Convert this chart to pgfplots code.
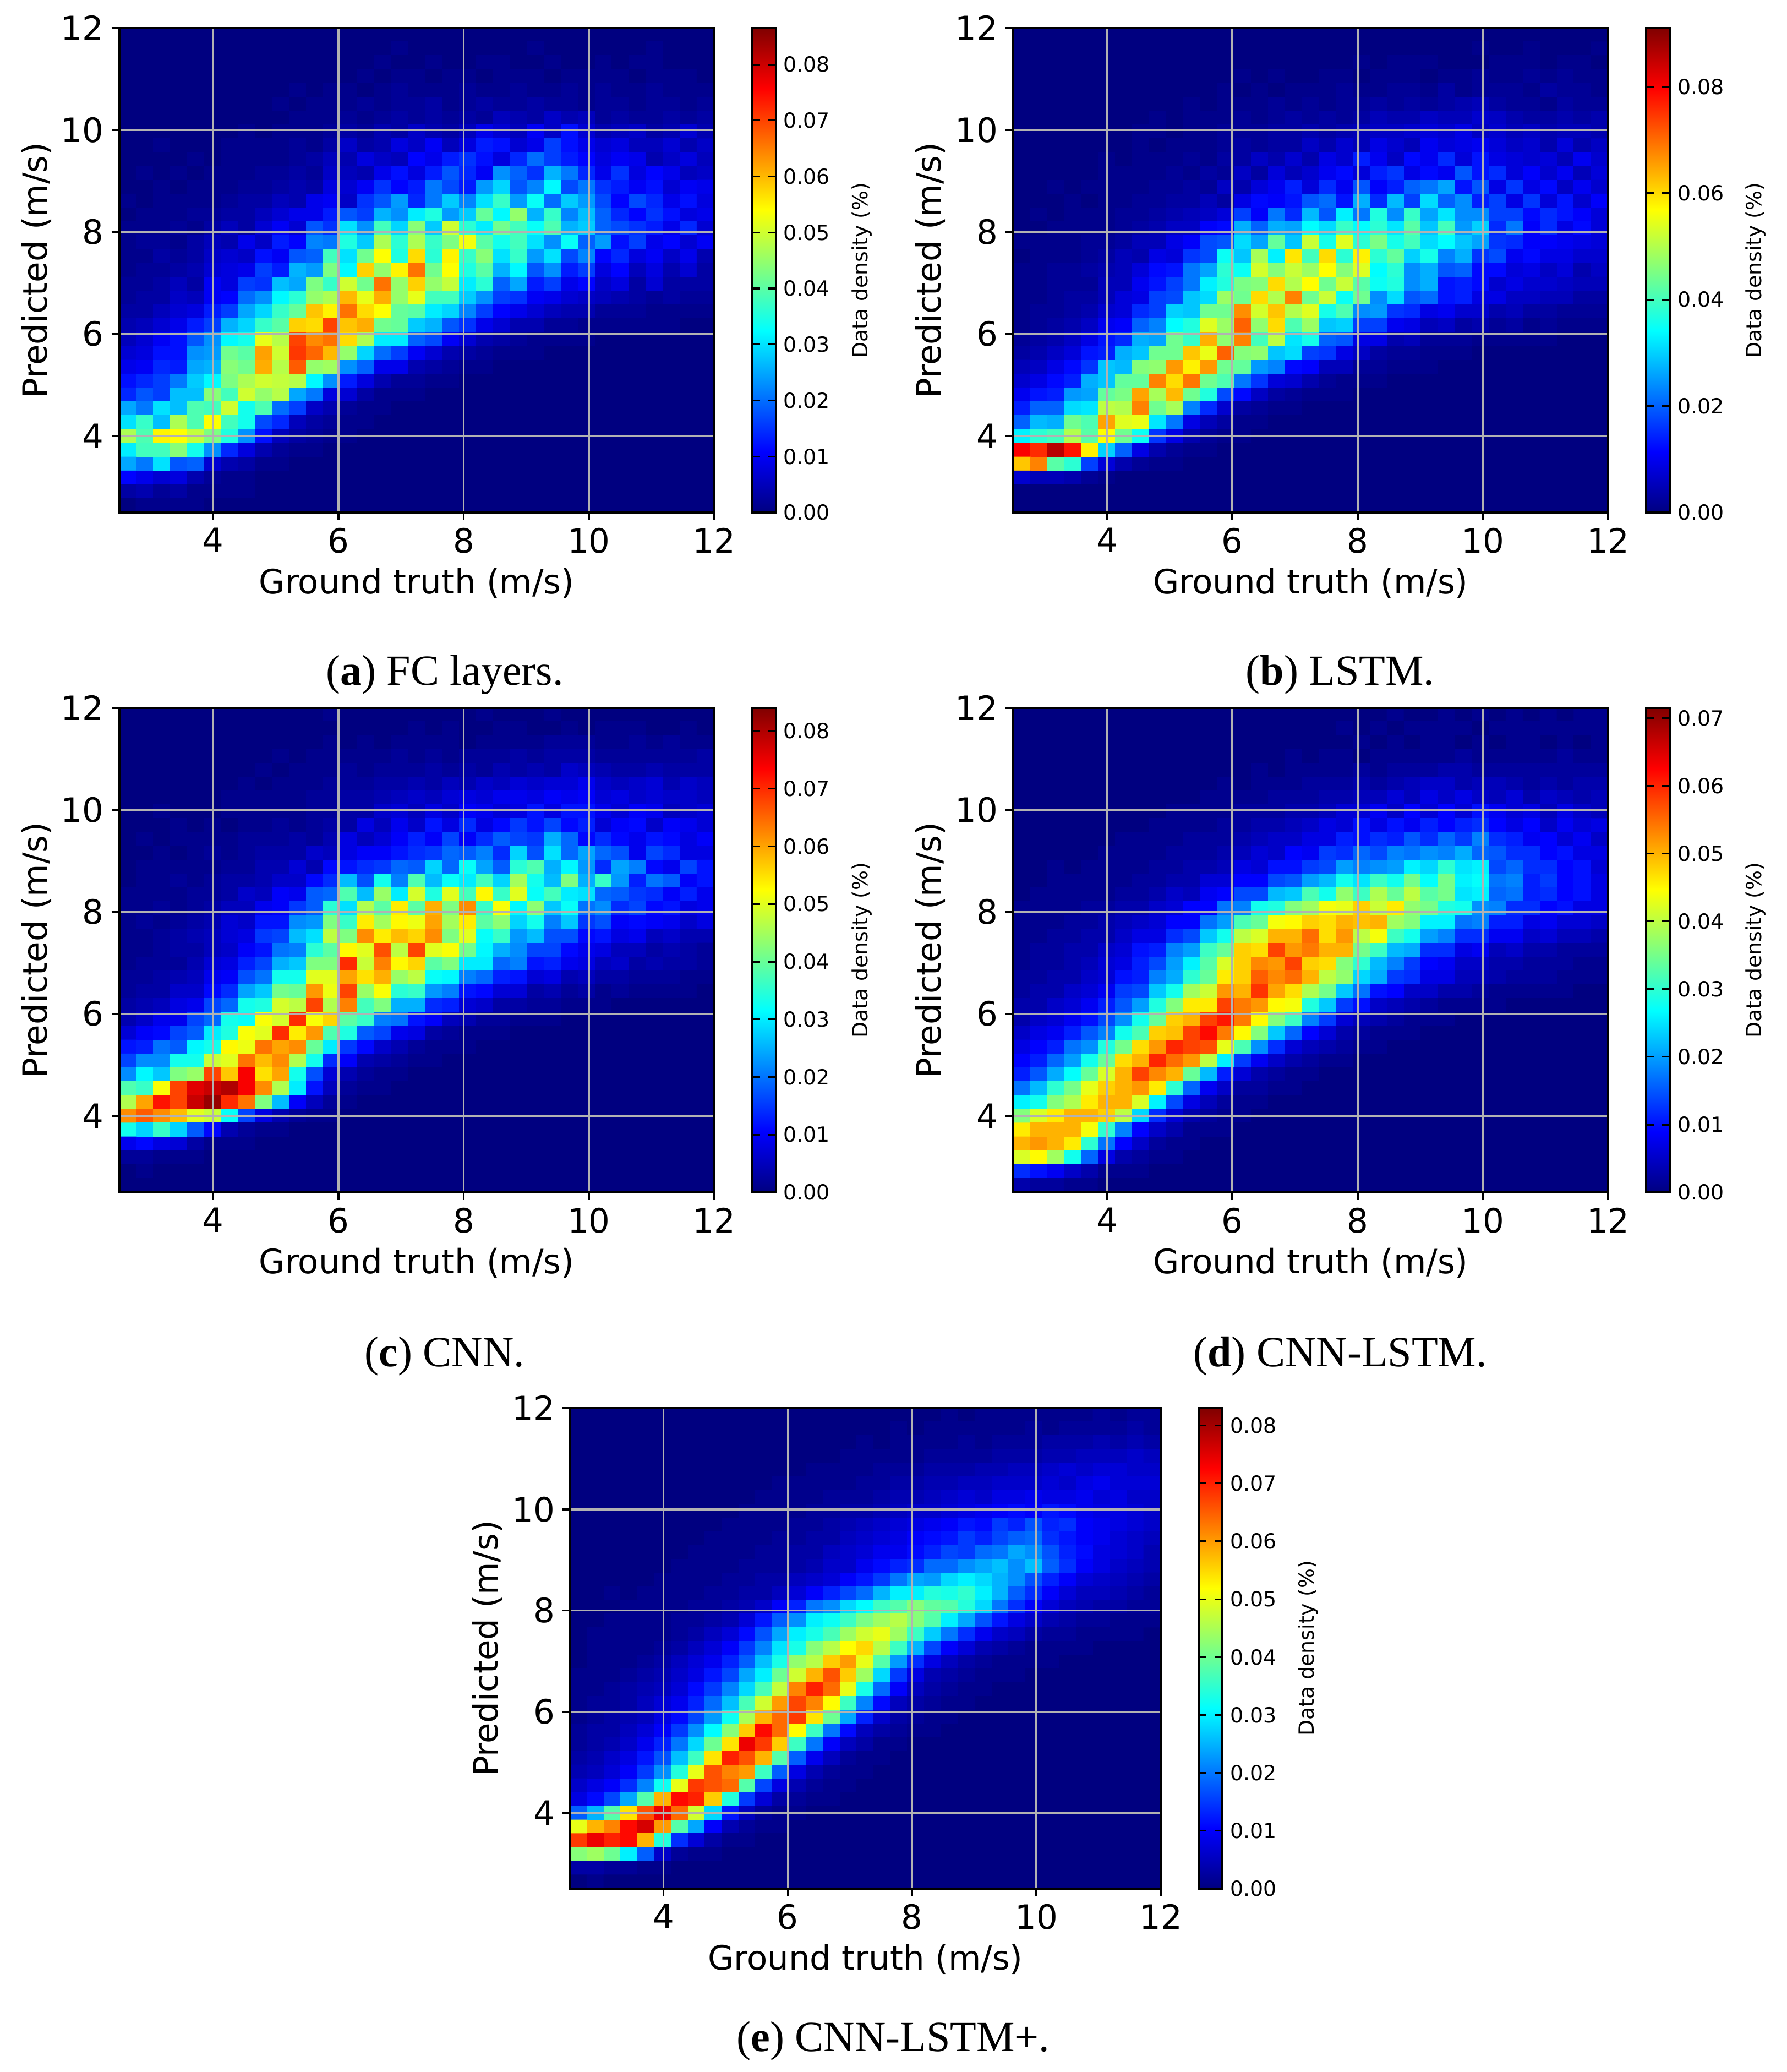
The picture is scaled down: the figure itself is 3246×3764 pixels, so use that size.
\documentclass[border=0pt]{standalone}
\usepackage{pgfplots}
\usepackage{pgfplotstable}
\usepackage{fontspec}
\setmainfont{DejaVu Sans}
\newfontfamily\capfont{Liberation Serif}
\pgfplotsset{compat=1.18}
\pgfplotstableread[row sep=\\]{z\\
0\\0\\0\\0\\0\\ 0\\0\\0\\0\\0\\ 0\\0\\0\\0\\0\\ 0\\0\\0\\0\\0\\ 0\\0\\0\\0\\0\\ 0\\0\\0\\0\\0\\ 0\\0\\0\\0\\0\\
0\\0\\0\\0\\0\\ 0\\0\\0\\0\\0\\ 0\\0\\0\\0\\0\\ 0\\1\\0\\0\\0\\ 0\\0\\0\\0\\1\\ 0\\0\\0\\0\\0\\ 0\\1\\0\\0\\0\\
0\\0\\0\\0\\0\\ 0\\0\\0\\0\\0\\ 0\\0\\0\\0\\0\\ 1\\0\\0\\1\\0\\ 0\\1\\1\\0\\0\\ 1\\0\\0\\1\\0\\ 1\\1\\0\\0\\0\\
0\\0\\0\\0\\0\\ 0\\0\\0\\0\\0\\ 0\\0\\0\\0\\1\\ 0\\1\\1\\0\\1\\ 1\\0\\1\\1\\1\\ 0\\1\\1\\1\\1\\ 0\\1\\1\\1\\0\\
0\\0\\0\\0\\0\\ 0\\0\\0\\0\\0\\ 1\\0\\1\\1\\0\\ 1\\2\\1\\1\\1\\ 2\\1\\1\\2\\1\\ 1\\2\\1\\2\\1\\ 1\\2\\1\\1\\1\\
0\\0\\0\\0\\0\\ 0\\0\\0\\0\\1\\ 0\\1\\1\\1\\2\\ 1\\2\\2\\3\\1\\ 2\\3\\2\\2\\3\\ 2\\2\\1\\2\\2\\ 1\\2\\2\\1\\2\\
0\\0\\0\\0\\0\\ 0\\0\\0\\0\\0\\ 1\\1\\1\\2\\1\\ 2\\3\\2\\3\\2\\ 3\\2\\5\\4\\3\\ 6\\4\\5\\2\\3\\ 2\\2\\3\\2\\3\\
0\\0\\0\\0\\0\\ 0\\0\\1\\0\\1\\ 1\\1\\2\\3\\2\\ 4\\3\\6\\4\\3\\ 5\\9\\7\\5\\10\\ 6\\12\\7\\4\\5\\ 6\\3\\4\\7\\4\\
0\\0\\1\\0\\0\\ 0\\1\\1\\1\\1\\ 2\\1\\3\\6\\3\\ 4\\8\\6\\10\\5\\ 8\\13\\12\\7\\9\\ 16\\12\\9\\7\\8\\ 5\\5\\7\\4\\6\\
0\\0\\0\\0\\1\\ 0\\1\\1\\1\\1\\ 2\\3\\5\\4\\8\\ 6\\5\\11\\9\\13\\ 15\\12\\8\\14\\20\\ 16\\13\\11\\8\\10\\ 9\\4\\6\\8\\5\\
0\\1\\0\\1\\0\\ 1\\1\\1\\2\\2\\ 3\\2\\6\\5\\4\\ 9\\12\\8\\13\\18\\ 14\\10\\23\\19\\15\\ 26\\21\\14\\9\\15\\ 8\\11\\9\\5\\6\\
0\\0\\1\\0\\1\\ 1\\1\\2\\2\\3\\ 4\\3\\8\\7\\10\\ 15\\11\\13\\21\\17\\ 13\\24\\29\\18\\22\\ 32\\17\\21\\15\\13\\ 10\\12\\7\\10\\9\\
1\\0\\1\\1\\1\\ 1\\2\\3\\3\\5\\ 4\\9\\10\\6\\15\\ 18\\24\\14\\21\\28\\ 22\\30\\37\\24\\33\\ 20\\28\\24\\17\\11\\ 17\\14\\9\\12\\8\\
0\\1\\1\\1\\2\\ 2\\3\\3\\5\\7\\ 9\\9\\13\\18\\16\\ 26\\23\\31\\35\\24\\ 28\\41\\32\\45\\26\\ 37\\22\\27\\19\\14\\ 11\\15\\12\\8\\9\\
1\\1\\1\\2\\1\\ 3\\5\\3\\7\\10\\ 7\\18\\15\\30\\23\\ 38\\29\\44\\28\\50\\ 36\\31\\42\\38\\33\\ 39\\26\\28\\19\\17\\ 15\\13\\9\\14\\7\\
1\\2\\2\\1\\3\\ 5\\4\\9\\6\\13\\ 11\\22\\21\\35\\28\\ 47\\36\\47\\37\\43\\ 53\\40\\34\\38\\30\\ 23\\33\\19\\24\\12\\ 16\\9\\11\\7\\10\\
1\\1\\3\\2\\3\\ 6\\7\\6\\12\\10\\ 18\\19\\38\\30\\42\\ 54\\35\\57\\36\\55\\ 37\\44\\30\\37\\24\\ 30\\17\\22\\11\\14\\ 8\\10\\6\\9\\4\\
1\\2\\2\\3\\4\\ 7\\8\\9\\16\\13\\ 26\\24\\43\\32\\58\\ 45\\55\\66\\42\\54\\ 35\\40\\26\\32\\18\\ 23\\13\\16\\8\\11\\ 5\\8\\4\\7\\3\\
2\\2\\3\\5\\3\\ 10\\8\\16\\15\\27\\ 25\\43\\37\\50\\42\\ 66\\45\\58\\45\\49\\ 31\\36\\19\\25\\13\\ 16\\9\\11\\6\\8\\ 3\\7\\3\\3\\3\\
2\\3\\3\\6\\5\\ 10\\11\\20\\23\\32\\ 36\\45\\47\\60\\52\\ 61\\45\\52\\38\\38\\ 28\\23\\16\\15\\10\\ 9\\7\\6\\5\\4\\ 3\\2\\3\\2\\2\\
3\\3\\5\\7\\8\\ 13\\16\\25\\29\\37\\ 41\\59\\55\\66\\57\\ 54\\41\\40\\31\\29\\ 22\\16\\11\\9\\7\\ 5\\4\\4\\2\\2\\ 2\\1\\1\\1\\1\\
4\\5\\7\\9\\13\\ 16\\26\\29\\37\\40\\ 58\\57\\70\\59\\61\\ 42\\41\\28\\26\\18\\ 15\\9\\7\\4\\4\\ 2\\2\\1\\1\\1\\ 1\\1\\1\\0\\0\\
5\\7\\10\\12\\18\\ 23\\32\\34\\52\\48\\ 70\\64\\66\\57\\47\\ 31\\31\\19\\17\\10\\ 7\\4\\3\\2\\1\\ 1\\1\\1\\0\\0\\ 0\\0\\0\\0\\0\\
7\\8\\12\\12\\23\\ 24\\42\\40\\62\\50\\ 71\\67\\60\\45\\29\\ 20\\16\\10\\7\\4\\ 3\\2\\1\\1\\1\\ 0\\0\\0\\0\\0\\ 0\\0\\0\\0\\0\\
9\\10\\14\\13\\25\\ 26\\44\\42\\61\\48\\ 68\\45\\46\\23\\19\\ 9\\9\\4\\3\\2\\ 1\\1\\0\\0\\0\\ 0\\0\\0\\0\\0\\ 0\\0\\0\\0\\0\\
12\\14\\16\\21\\28\\ 32\\43\\47\\50\\49\\ 48\\32\\23\\13\\8\\ 4\\2\\2\\1\\1\\ 0\\0\\0\\0\\0\\ 0\\0\\0\\0\\0\\ 0\\0\\0\\0\\0\\
14\\18\\16\\27\\27\\ 44\\38\\50\\45\\48\\ 25\\21\\8\\7\\3\\ 1\\1\\1\\0\\0\\ 0\\0\\0\\0\\0\\ 0\\0\\0\\0\\0\\ 0\\0\\0\\0\\0\\
25\\21\\30\\27\\39\\ 38\\50\\34\\39\\20\\ 16\\6\\4\\2\\1\\ 1\\0\\0\\0\\0\\ 0\\0\\0\\0\\0\\ 0\\0\\0\\0\\0\\ 0\\0\\0\\0\\0\\
30\\37\\27\\47\\39\\ 54\\38\\34\\17\\14\\ 5\\3\\2\\1\\1\\ 0\\0\\0\\0\\0\\ 0\\0\\0\\0\\0\\ 0\\0\\0\\0\\0\\ 0\\0\\0\\0\\0\\
47\\39\\55\\54\\49\\ 43\\35\\23\\12\\5\\ 3\\2\\1\\1\\0\\ 0\\0\\0\\0\\0\\ 0\\0\\0\\0\\0\\ 0\\0\\0\\0\\0\\ 0\\0\\0\\0\\0\\
31\\38\\38\\44\\34\\ 23\\14\\8\\4\\2\\ 1\\1\\0\\0\\0\\ 0\\0\\0\\0\\0\\ 0\\0\\0\\0\\0\\ 0\\0\\0\\0\\0\\ 0\\0\\0\\0\\0\\
25\\21\\30\\18\\19\\ 7\\4\\3\\1\\1\\ 0\\0\\0\\0\\0\\ 0\\0\\0\\0\\0\\ 0\\0\\0\\0\\0\\ 0\\0\\0\\0\\0\\ 0\\0\\0\\0\\0\\
11\\9\\7\\8\\4\\ 2\\1\\1\\0\\0\\ 0\\0\\0\\0\\0\\ 0\\0\\0\\0\\0\\ 0\\0\\0\\0\\0\\ 0\\0\\0\\0\\0\\ 0\\0\\0\\0\\0\\
3\\4\\2\\3\\1\\ 1\\1\\1\\0\\0\\ 0\\0\\0\\0\\0\\ 0\\0\\0\\0\\0\\ 0\\0\\0\\0\\0\\ 0\\0\\0\\0\\0\\ 0\\0\\0\\0\\0\\
0\\1\\1\\1\\1\\ 0\\0\\0\\0\\0\\ 0\\0\\0\\0\\0\\ 0\\0\\0\\0\\0\\ 0\\0\\0\\0\\0\\ 0\\0\\0\\0\\0\\ 0\\0\\0\\0\\0\\
}\tA
\pgfplotstableread[row sep=\\]{z\\
0\\0\\0\\0\\0\\ 0\\0\\0\\0\\0\\ 0\\0\\0\\0\\0\\ 0\\0\\0\\0\\0\\ 0\\0\\0\\0\\0\\ 0\\0\\0\\0\\0\\ 0\\0\\0\\0\\0\\
0\\0\\0\\0\\0\\ 0\\0\\0\\0\\0\\ 0\\0\\0\\0\\0\\ 0\\0\\0\\0\\0\\ 0\\0\\0\\0\\0\\ 0\\0\\1\\0\\0\\ 1\\0\\0\\0\\1\\
0\\0\\0\\0\\0\\ 0\\0\\0\\0\\0\\ 0\\0\\0\\0\\0\\ 0\\0\\0\\0\\0\\ 1\\0\\1\\1\\1\\ 0\\0\\0\\1\\1\\ 1\\0\\1\\1\\0\\
0\\0\\0\\0\\0\\ 0\\0\\0\\0\\0\\ 0\\0\\0\\1\\0\\ 1\\0\\0\\1\\1\\ 0\\1\\1\\1\\0\\ 1\\1\\2\\1\\1\\ 2\\1\\2\\1\\1\\
0\\0\\0\\0\\0\\ 0\\0\\0\\0\\0\\ 0\\0\\1\\0\\1\\ 0\\1\\1\\1\\2\\ 1\\1\\2\\2\\1\\ 3\\1\\2\\2\\2\\ 1\\3\\2\\2\\1\\
0\\0\\0\\0\\0\\ 0\\0\\0\\0\\0\\ 1\\0\\1\\1\\1\\ 2\\1\\2\\1\\2\\ 2\\3\\2\\3\\2\\ 3\\4\\5\\3\\2\\ 2\\1\\3\\2\\2\\
0\\0\\0\\0\\0\\ 0\\0\\0\\1\\0\\ 1\\1\\1\\2\\1\\ 2\\3\\2\\3\\2\\ 3\\5\\4\\4\\6\\ 5\\5\\7\\6\\4\\ 3\\3\\4\\3\\4\\
0\\0\\0\\0\\0\\ 0\\0\\1\\1\\0\\ 1\\1\\2\\2\\2\\ 3\\3\\4\\3\\4\\ 5\\6\\6\\7\\8\\ 7\\9\\6\\7\\5\\ 6\\4\\5\\5\\4\\
0\\0\\0\\0\\0\\ 0\\0\\1\\0\\1\\ 1\\1\\2\\3\\2\\ 3\\3\\6\\4\\7\\ 5\\9\\7\\5\\10\\ 8\\9\\10\\8\\6\\ 7\\4\\8\\4\\6\\
0\\0\\0\\0\\0\\ 1\\0\\1\\1\\1\\ 2\\1\\3\\3\\6\\ 4\\7\\4\\9\\7\\ 14\\10\\6\\12\\10\\ 15\\8\\13\\9\\8\\ 7\\8\\5\\10\\7\\
0\\0\\0\\0\\0\\ 1\\1\\1\\1\\2\\ 1\\3\\2\\6\\3\\ 8\\5\\7\\10\\12\\ 8\\14\\16\\9\\12\\ 10\\19\\13\\15\\8\\ 11\\7\\10\\5\\8\\
0\\0\\1\\0\\1\\ 1\\1\\1\\2\\2\\ 3\\2\\6\\4\\8\\ 10\\14\\8\\15\\10\\ 19\\11\\14\\20\\22\\ 26\\13\\19\\9\\16\\ 9\\12\\6\\10\\7\\
0\\0\\0\\1\\0\\ 1\\1\\2\\2\\3\\ 3\\5\\3\\9\\12\\ 11\\13\\19\\21\\13\\ 27\\15\\28\\17\\31\\ 20\\24\\14\\17\\9\\ 16\\8\\13\\7\\11\\
0\\1\\0\\1\\1\\ 1\\2\\2\\3\\4\\ 5\\6\\8\\17\\11\\ 22\\15\\28\\19\\33\\ 22\\37\\24\\39\\26\\ 32\\24\\24\\17\\17\\ 12\\15\\13\\11\\8\\
0\\0\\1\\1\\1\\ 1\\2\\3\\4\\6\\ 6\\11\\12\\27\\20\\ 27\\26\\34\\31\\39\\ 34\\38\\32\\42\\29\\ 40\\25\\30\\15\\22\\ 11\\15\\9\\12\\8\\
1\\1\\1\\1\\2\\ 2\\3\\5\\5\\9\\ 11\\18\\19\\31\\26\\ 43\\29\\52\\36\\54\\ 38\\45\\36\\40\\31\\ 34\\29\\26\\16\\15\\ 11\\11\\10\\9\\8\\
0\\1\\1\\1\\2\\ 3\\5\\4\\9\\8\\ 16\\18\\35\\29\\49\\ 33\\59\\40\\60\\38\\ 58\\38\\43\\30\\36\\ 23\\27\\16\\18\\10\\ 12\\9\\9\\7\\7\\
1\\1\\2\\2\\3\\ 4\\5\\8\\12\\13\\ 22\\26\\38\\35\\53\\ 46\\52\\48\\57\\46\\ 54\\34\\38\\24\\27\\ 19\\20\\12\\12\\8\\ 9\\6\\8\\4\\6\\
1\\1\\2\\2\\2\\ 5\\5\\10\\13\\17\\ 22\\33\\37\\45\\46\\ 60\\50\\57\\44\\52\\ 42\\35\\37\\24\\27\\ 13\\14\\12\\7\\9\\ 7\\7\\6\\5\\5\\
1\\1\\2\\3\\3\\ 5\\8\\9\\17\\18\\ 29\\31\\48\\44\\60\\ 50\\68\\44\\52\\35\\ 44\\24\\31\\19\\21\\ 13\\14\\9\\9\\6\\ 6\\5\\5\\3\\3\\
1\\2\\2\\3\\4\\ 7\\8\\15\\17\\30\\ 29\\44\\44\\67\\53\\ 62\\50\\54\\36\\41\\ 24\\25\\16\\15\\9\\ 10\\7\\7\\4\\5\\ 3\\3\\2\\2\\2\\
1\\2\\3\\4\\6\\ 10\\11\\20\\23\\34\\ 37\\54\\48\\71\\47\\ 60\\41\\48\\29\\30\\ 17\\17\\10\\9\\5\\ 6\\3\\4\\2\\3\\ 1\\2\\1\\1\\1\\
2\\3\\4\\6\\9\\ 13\\15\\27\\26\\44\\ 39\\64\\47\\68\\40\\ 51\\32\\36\\20\\19\\ 9\\9\\4\\5\\2\\ 2\\2\\1\\1\\1\\ 1\\1\\0\\0\\0\\
3\\4\\6\\8\\13\\ 14\\27\\29\\44\\44\\ 62\\55\\71\\46\\47\\ 29\\31\\17\\16\\9\\ 6\\3\\2\\2\\1\\ 1\\1\\0\\0\\0\\ 0\\0\\0\\0\\0\\
5\\6\\9\\12\\16\\ 29\\28\\46\\47\\66\\ 58\\66\\44\\43\\25\\ 23\\12\\11\\5\\5\\ 2\\2\\1\\1\\1\\ 0\\0\\0\\0\\0\\ 0\\0\\0\\0\\0\\
7\\9\\12\\14\\27\\ 29\\43\\43\\68\\60\\ 69\\44\\41\\22\\16\\ 8\\7\\4\\2\\1\\ 1\\1\\0\\0\\0\\ 0\\0\\0\\0\\0\\ 0\\0\\0\\0\\0\\
10\\13\\14\\25\\26\\ 43\\45\\65\\49\\63\\ 44\\37\\18\\12\\6\\ 3\\2\\1\\1\\1\\ 0\\0\\0\\0\\0\\ 0\\0\\0\\0\\0\\ 0\\0\\0\\0\\0\\
14\\20\\20\\31\\32\\ 51\\50\\68\\44\\49\\ 23\\15\\7\\3\\2\\ 1\\1\\0\\0\\0\\ 0\\0\\0\\0\\0\\ 0\\0\\0\\0\\0\\ 0\\0\\0\\0\\0\\
20\\28\\27\\44\\41\\ 65\\54\\55\\32\\22\\ 9\\5\\3\\1\\1\\ 0\\0\\0\\0\\0\\ 0\\0\\0\\0\\0\\ 0\\0\\0\\0\\0\\ 0\\0\\0\\0\\0\\
33\\38\\40\\50\\42\\ 57\\44\\35\\16\\9\\ 4\\2\\1\\1\\0\\ 0\\0\\0\\0\\0\\ 0\\0\\0\\0\\0\\ 0\\0\\0\\0\\0\\ 0\\0\\0\\0\\0\\
80\\76\\86\\78\\58\\ 30\\20\\9\\4\\2\\ 1\\1\\0\\0\\0\\ 0\\0\\0\\0\\0\\ 0\\0\\0\\0\\0\\ 0\\0\\0\\0\\0\\ 0\\0\\0\\0\\0\\
62\\68\\42\\38\\17\\ 8\\4\\2\\1\\1\\ 0\\0\\0\\0\\0\\ 0\\0\\0\\0\\0\\ 0\\0\\0\\0\\0\\ 0\\0\\0\\0\\0\\ 0\\0\\0\\0\\0\\
7\\5\\5\\4\\2\\ 1\\0\\0\\0\\0\\ 0\\0\\0\\0\\0\\ 0\\0\\0\\0\\0\\ 0\\0\\0\\0\\0\\ 0\\0\\0\\0\\0\\ 0\\0\\0\\0\\0\\
0\\0\\0\\0\\0\\ 0\\0\\0\\0\\0\\ 0\\0\\0\\0\\0\\ 0\\0\\0\\0\\0\\ 0\\0\\0\\0\\0\\ 0\\0\\0\\0\\0\\ 0\\0\\0\\0\\0\\
0\\0\\0\\0\\0\\ 0\\0\\0\\0\\0\\ 0\\0\\0\\0\\0\\ 0\\0\\0\\0\\0\\ 0\\0\\0\\0\\0\\ 0\\0\\0\\0\\0\\ 0\\0\\0\\0\\0\\
}\tB
\pgfplotstableread[row sep=\\]{z\\
0\\0\\0\\0\\0\\ 0\\0\\0\\0\\0\\ 0\\0\\1\\0\\0\\ 0\\0\\0\\0\\0\\ 0\\1\\0\\0\\0\\ 1\\0\\0\\0\\0\\ 0\\0\\0\\0\\0\\
0\\0\\0\\0\\0\\ 0\\0\\0\\0\\0\\ 0\\0\\0\\0\\0\\ 0\\0\\1\\0\\1\\ 0\\0\\1\\1\\0\\ 0\\1\\0\\1\\1\\ 1\\0\\0\\1\\0\\
0\\0\\0\\0\\0\\ 0\\0\\0\\0\\0\\ 0\\0\\1\\0\\1\\ 0\\1\\1\\1\\1\\ 0\\1\\1\\1\\1\\ 2\\2\\2\\1\\1\\ 2\\1\\2\\1\\1\\
0\\0\\0\\0\\0\\ 0\\0\\0\\0\\1\\ 0\\1\\1\\1\\1\\ 1\\2\\1\\2\\1\\ 2\\2\\2\\3\\2\\ 3\\3\\3\\2\\2\\ 2\\2\\2\\2\\3\\
0\\0\\0\\0\\0\\ 0\\0\\0\\1\\0\\ 1\\1\\1\\2\\1\\ 2\\2\\2\\3\\2\\ 3\\2\\4\\3\\4\\ 3\\6\\5\\4\\3\\ 3\\4\\3\\3\\3\\
0\\0\\0\\0\\0\\ 0\\0\\1\\0\\1\\ 1\\1\\2\\2\\2\\ 3\\3\\4\\3\\5\\ 4\\6\\5\\7\\6\\ 7\\7\\9\\6\\5\\ 6\\7\\4\\6\\5\\
0\\0\\0\\0\\0\\ 0\\1\\1\\1\\1\\ 1\\2\\2\\3\\3\\ 4\\5\\6\\5\\7\\ 8\\7\\9\\9\\8\\ 10\\9\\10\\7\\8\\ 6\\7\\6\\6\\5\\
0\\0\\1\\0\\0\\ 0\\1\\1\\1\\1\\ 1\\2\\2\\3\\3\\ 6\\7\\5\\8\\6\\ 10\\9\\7\\8\\12\\ 8\\12\\12\\9\\7\\ 10\\9\\5\\6\\7\\
0\\0\\0\\1\\0\\ 1\\0\\1\\1\\2\\ 1\\2\\3\\3\\8\\ 5\\9\\6\\12\\8\\ 14\\8\\11\\15\\12\\ 16\\11\\13\\7\\10\\ 11\\6\\10\\9\\7\\
0\\1\\0\\1\\1\\ 1\\1\\2\\2\\2\\ 3\\2\\4\\8\\5\\ 7\\10\\13\\10\\16\\ 10\\14\\18\\16\\15\\ 25\\19\\11\\14\\11\\ 9\\12\\11\\8\\10\\
0\\0\\1\\0\\1\\ 2\\1\\2\\3\\3\\ 3\\6\\5\\8\\10\\ 10\\12\\14\\15\\19\\ 18\\21\\14\\28\\17\\ 29\\19\\24\\19\\17\\ 9\\16\\14\\8\\8\\
0\\1\\1\\1\\1\\ 1\\2\\2\\4\\4\\ 7\\4\\11\\12\\14\\ 15\\19\\18\\28\\19\\ 32\\24\\18\\35\\38\\ 25\\31\\23\\14\\24\\ 21\\11\\9\\16\\12\\
0\\1\\1\\2\\1\\ 2\\3\\3\\4\\6\\ 6\\11\\14\\26\\17\\ 33\\21\\38\\26\\32\\ 30\\37\\28\\45\\33\\ 26\\42\\25\\36\\23\\ 13\\20\\18\\10\\12\\
1\\1\\1\\1\\2\\ 2\\3\\6\\5\\10\\ 9\\18\\19\\38\\26\\ 44\\30\\49\\34\\50\\ 37\\53\\36\\50\\32\\ 37\\30\\29\\19\\18\\ 15\\14\\10\\13\\9\\
1\\1\\2\\1\\2\\ 3\\5\\5\\9\\10\\ 15\\18\\35\\29\\46\\ 39\\54\\39\\59\\42\\ 62\\36\\52\\31\\43\\ 27\\32\\20\\22\\14\\ 16\\11\\12\\8\\9\\
1\\2\\1\\2\\3\\ 4\\7\\6\\12\\12\\ 22\\23\\42\\36\\54\\ 45\\53\\51\\60\\45\\ 54\\39\\43\\28\\33\\ 21\\27\\15\\17\\10\\ 11\\10\\9\\6\\8\\
1\\1\\2\\3\\4\\ 5\\7\\8\\15\\16\\ 26\\29\\47\\42\\62\\ 54\\58\\56\\62\\42\\ 50\\32\\36\\23\\26\\ 17\\17\\11\\12\\8\\ 9\\5\\6\\4\\4\\
1\\1\\2\\3\\3\\ 5\\6\\10\\12\\20\\ 21\\35\\39\\53\\50\\ 67\\47\\68\\50\\52\\ 41\\31\\25\\22\\16\\ 16\\11\\9\\8\\5\\ 5\\3\\4\\3\\2\\
1\\2\\2\\2\\4\\ 7\\8\\13\\16\\25\\ 27\\42\\42\\70\\48\\ 63\\53\\56\\39\\42\\ 30\\30\\19\\21\\12\\ 13\\9\\8\\5\\6\\ 3\\4\\3\\3\\2\\
2\\2\\3\\4\\5\\ 9\\10\\17\\20\\33\\ 33\\50\\50\\60\\55\\ 59\\44\\47\\32\\31\\ 21\\19\\13\\12\\7\\ 8\\4\\5\\3\\3\\ 2\\2\\2\\1\\1\\
2\\3\\3\\6\\6\\ 11\\14\\24\\27\\41\\ 40\\61\\51\\68\\44\\ 52\\35\\36\\23\\21\\ 12\\11\\7\\7\\3\\ 4\\2\\3\\1\\2\\ 1\\1\\1\\1\\0\\
3\\4\\5\\8\\9\\ 16\\19\\33\\34\\49\\ 47\\68\\46\\63\\37\\ 42\\25\\25\\14\\13\\ 7\\6\\3\\3\\2\\ 2\\1\\1\\1\\0\\ 0\\0\\0\\0\\0\\
4\\6\\9\\9\\16\\ 19\\33\\32\\52\\49\\ 70\\52\\56\\39\\36\\ 21\\20\\12\\10\\5\\ 4\\2\\2\\1\\1\\ 1\\0\\0\\0\\0\\ 0\\0\\0\\0\\0\\
7\\10\\11\\16\\18\\ 30\\34\\52\\50\\70\\ 54\\61\\38\\34\\18\\ 16\\9\\8\\3\\2\\ 1\\1\\1\\0\\0\\ 0\\0\\0\\0\\0\\ 0\\0\\0\\0\\0\\
12\\13\\20\\18\\31\\ 33\\53\\51\\64\\60\\ 62\\40\\30\\15\\11\\ 6\\4\\2\\1\\1\\ 1\\0\\0\\0\\0\\ 0\\0\\0\\0\\0\\ 0\\0\\0\\0\\0\\
16\\22\\22\\33\\33\\ 48\\50\\64\\58\\62\\ 46\\33\\14\\10\\4\\ 3\\2\\1\\1\\0\\ 0\\0\\0\\0\\0\\ 0\\0\\0\\0\\0\\ 0\\0\\0\\0\\0\\
22\\31\\27\\42\\44\\ 68\\57\\74\\55\\60\\ 33\\17\\7\\4\\2\\ 1\\1\\0\\0\\0\\ 0\\0\\0\\0\\0\\ 0\\0\\0\\0\\0\\ 0\\0\\0\\0\\0\\
38\\36\\52\\68\\76\\ 78\\80\\74\\62\\46\\ 30\\12\\5\\2\\1\\ 1\\0\\0\\0\\0\\ 0\\0\\0\\0\\0\\ 0\\0\\0\\0\\0\\ 0\\0\\0\\0\\0\\
46\\60\\72\\68\\78\\ 82\\70\\64\\42\\26\\ 10\\5\\2\\1\\0\\ 0\\0\\0\\0\\0\\ 0\\0\\0\\0\\0\\ 0\\0\\0\\0\\0\\ 0\\0\\0\\0\\0\\
62\\66\\62\\58\\50\\ 48\\32\\16\\8\\4\\ 2\\1\\1\\0\\0\\ 0\\0\\0\\0\\0\\ 0\\0\\0\\0\\0\\ 0\\0\\0\\0\\0\\ 0\\0\\0\\0\\0\\
33\\28\\36\\28\\18\\ 11\\4\\2\\1\\1\\ 0\\0\\0\\0\\0\\ 0\\0\\0\\0\\0\\ 0\\0\\0\\0\\0\\ 0\\0\\0\\0\\0\\ 0\\0\\0\\0\\0\\
9\\11\\8\\7\\3\\ 1\\1\\1\\0\\0\\ 0\\0\\0\\0\\0\\ 0\\0\\0\\0\\0\\ 0\\0\\0\\0\\0\\ 0\\0\\0\\0\\0\\ 0\\0\\0\\0\\0\\
2\\2\\1\\1\\1\\ 0\\0\\0\\0\\0\\ 0\\0\\0\\0\\0\\ 0\\0\\0\\0\\0\\ 0\\0\\0\\0\\0\\ 0\\0\\0\\0\\0\\ 0\\0\\0\\0\\0\\
0\\1\\0\\0\\0\\ 0\\0\\0\\0\\0\\ 0\\0\\0\\0\\0\\ 0\\0\\0\\0\\0\\ 0\\0\\0\\0\\0\\ 0\\0\\0\\0\\0\\ 0\\0\\0\\0\\0\\
0\\0\\0\\0\\0\\ 0\\0\\0\\0\\0\\ 0\\0\\0\\0\\0\\ 0\\0\\0\\0\\0\\ 0\\0\\0\\0\\0\\ 0\\0\\0\\0\\0\\ 0\\0\\0\\0\\0\\
}\tC
\pgfplotstableread[row sep=\\]{z\\
0\\0\\0\\0\\0\\ 0\\0\\0\\0\\0\\ 0\\0\\0\\0\\0\\ 0\\0\\0\\0\\0\\ 0\\0\\1\\0\\0\\ 1\\0\\1\\0\\1\\ 0\\1\\0\\1\\1\\
0\\0\\0\\0\\0\\ 0\\0\\0\\0\\0\\ 0\\0\\0\\0\\0\\ 0\\0\\0\\0\\1\\ 0\\1\\0\\1\\1\\ 1\\1\\0\\1\\1\\ 1\\1\\1\\1\\1\\
0\\0\\0\\0\\0\\ 0\\0\\0\\0\\0\\ 0\\0\\0\\0\\0\\ 0\\0\\0\\0\\0\\ 1\\0\\1\\0\\1\\ 1\\0\\1\\0\\1\\ 1\\0\\1\\0\\1\\
0\\0\\0\\0\\0\\ 0\\0\\0\\0\\0\\ 0\\0\\0\\0\\0\\ 0\\1\\0\\1\\1\\ 0\\1\\1\\1\\1\\ 1\\2\\1\\1\\1\\ 1\\1\\2\\1\\1\\
0\\0\\0\\0\\0\\ 0\\0\\0\\0\\0\\ 0\\0\\0\\0\\1\\ 0\\1\\1\\1\\1\\ 2\\1\\2\\2\\2\\ 3\\3\\2\\2\\2\\ 2\\2\\2\\2\\2\\
0\\0\\0\\0\\0\\ 0\\0\\0\\0\\0\\ 0\\0\\1\\0\\1\\ 1\\1\\2\\2\\2\\ 3\\2\\3\\4\\5\\ 5\\3\\4\\4\\3\\ 2\\3\\2\\3\\3\\
0\\0\\0\\0\\0\\ 0\\0\\0\\0\\0\\ 0\\1\\1\\1\\1\\ 2\\2\\2\\3\\3\\ 4\\4\\6\\4\\7\\ 5\\7\\5\\4\\6\\ 3\\5\\4\\3\\4\\
0\\0\\0\\0\\0\\ 0\\0\\0\\0\\1\\ 1\\1\\1\\2\\2\\ 2\\3\\3\\4\\6\\ 6\\8\\5\\9\\6\\ 9\\6\\10\\8\\6\\ 7\\4\\7\\5\\4\\
0\\0\\0\\0\\0\\ 0\\0\\0\\1\\1\\ 1\\1\\2\\2\\3\\ 3\\4\\5\\7\\6\\ 10\\7\\10\\8\\11\\ 9\\11\\12\\9\\7\\ 9\\5\\8\\6\\7\\
0\\0\\0\\0\\0\\ 0\\1\\1\\1\\1\\ 2\\2\\2\\3\\4\\ 5\\5\\7\\7\\11\\ 10\\12\\11\\15\\12\\ 16\\13\\18\\12\\11\\ 8\\9\\6\\8\\5\\
0\\0\\0\\0\\0\\ 1\\1\\1\\1\\2\\ 2\\2\\3\\4\\6\\ 5\\9\\8\\13\\12\\ 16\\14\\18\\17\\19\\ 18\\21\\16\\15\\12\\ 12\\9\\10\\7\\7\\
0\\0\\1\\0\\1\\ 1\\1\\1\\2\\2\\ 3\\3\\4\\7\\6\\ 10\\10\\13\\14\\20\\ 18\\19\\20\\26\\24\\ 30\\25\\26\\14\\16\\ 12\\12\\9\\10\\6\\
0\\0\\1\\1\\1\\ 1\\1\\2\\2\\3\\ 3\\6\\6\\9\\9\\ 14\\15\\20\\22\\28\\ 25\\31\\28\\35\\27\\ 35\\26\\27\\17\\18\\ 11\\13\\9\\10\\7\\
0\\1\\1\\1\\1\\ 1\\2\\2\\3\\5\\ 4\\8\\9\\14\\14\\ 22\\23\\32\\28\\37\\ 31\\39\\34\\40\\33\\ 35\\25\\26\\16\\17\\ 11\\12\\9\\10\\7\\
1\\1\\1\\1\\2\\ 2\\3\\3\\5\\6\\ 9\\9\\17\\18\\28\\ 29\\36\\38\\44\\43\\ 48\\41\\46\\37\\35\\ 29\\28\\19\\18\\12\\ 12\\9\\10\\7\\7\\
1\\1\\1\\2\\2\\ 3\\4\\5\\6\\9\\ 9\\17\\20\\32\\34\\ 44\\45\\48\\47\\50\\ 49\\50\\38\\36\\26\\ 26\\17\\18\\11\\11\\ 7\\8\\6\\6\\5\\
1\\1\\2\\2\\3\\ 3\\5\\7\\7\\12\\ 14\\23\\28\\40\\42\\ 50\\50\\55\\47\\52\\ 40\\44\\31\\28\\20\\ 18\\12\\12\\8\\8\\ 5\\6\\4\\4\\3\\
1\\2\\2\\3\\3\\ 5\\6\\10\\11\\18\\ 20\\31\\34\\48\\47\\ 58\\52\\54\\50\\50\\ 35\\31\\22\\21\\12\\ 12\\7\\8\\4\\5\\ 3\\3\\2\\2\\2\\
1\\2\\2\\3\\4\\ 6\\7\\11\\14\\20\\ 26\\33\\42\\48\\53\\ 52\\58\\48\\47\\36\\ 30\\22\\18\\13\\9\\ 8\\5\\5\\3\\3\\ 2\\2\\2\\1\\1\\
2\\2\\3\\3\\5\\ 6\\10\\11\\18\\21\\ 30\\34\\46\\48\\56\\ 53\\55\\50\\40\\37\\ 24\\21\\13\\12\\7\\ 7\\4\\4\\3\\2\\ 2\\2\\1\\1\\1\\
2\\3\\3\\5\\6\\ 8\\13\\14\\23\\28\\ 38\\41\\52\\50\\59\\ 51\\47\\39\\35\\23\\ 17\\10\\9\\5\\5\\ 3\\3\\2\\1\\1\\ 1\\1\\1\\0\\0\\
3\\3\\5\\6\\8\\ 11\\15\\20\\29\\36\\ 46\\46\\58\\54\\52\\ 45\\44\\29\\23\\13\\ 10\\5\\4\\3\\2\\ 1\\1\\1\\1\\0\\ 0\\0\\0\\0\\0\\
3\\5\\6\\8\\10\\ 14\\19\\28\\34\\48\\ 50\\58\\61\\54\\45\\ 36\\31\\18\\13\\6\\ 4\\3\\2\\1\\1\\ 1\\0\\0\\0\\0\\ 0\\0\\0\\0\\0\\
5\\7\\8\\11\\15\\ 18\\28\\32\\48\\49\\ 58\\62\\54\\45\\36\\ 23\\16\\9\\6\\3\\ 2\\1\\1\\1\\0\\ 0\\0\\0\\0\\0\\ 0\\0\\0\\0\\0\\
7\\9\\11\\17\\19\\ 29\\35\\47\\52\\60\\ 58\\57\\43\\32\\19\\ 12\\6\\4\\3\\2\\ 1\\1\\0\\0\\0\\ 0\\0\\0\\0\\0\\ 0\\0\\0\\0\\0\\
9\\11\\16\\20\\28\\ 34\\47\\50\\60\\55\\ 52\\40\\26\\13\\8\\ 5\\3\\2\\1\\1\\ 0\\0\\0\\0\\0\\ 0\\0\\0\\0\\0\\ 0\\0\\0\\0\\0\\
11\\15\\21\\27\\34\\ 42\\50\\58\\53\\50\\ 34\\22\\11\\6\\3\\ 2\\1\\1\\0\\0\\ 0\\0\\0\\0\\0\\ 0\\0\\0\\0\\0\\ 0\\0\\0\\0\\0\\
17\\22\\30\\35\\43\\ 48\\50\\52\\46\\30\\ 16\\8\\5\\2\\2\\ 1\\1\\0\\0\\0\\ 0\\0\\0\\0\\0\\ 0\\0\\0\\0\\0\\ 0\\0\\0\\0\\0\\
26\\28\\36\\39\\46\\ 50\\50\\42\\26\\14\\ 7\\4\\2\\1\\1\\ 0\\0\\0\\0\\0\\ 0\\0\\0\\0\\0\\ 0\\0\\0\\0\\0\\ 0\\0\\0\\0\\0\\
36\\42\\46\\50\\50\\ 48\\40\\24\\12\\6\\ 3\\2\\1\\1\\0\\ 0\\0\\0\\0\\0\\ 0\\0\\0\\0\\0\\ 0\\0\\0\\0\\0\\ 0\\0\\0\\0\\0\\
46\\50\\50\\50\\44\\ 30\\18\\9\\5\\3\\ 1\\1\\1\\0\\0\\ 0\\0\\0\\0\\0\\ 0\\0\\0\\0\\0\\ 0\\0\\0\\0\\0\\ 0\\0\\0\\0\\0\\
50\\52\\50\\46\\30\\ 17\\9\\5\\2\\1\\ 1\\0\\0\\0\\0\\ 0\\0\\0\\0\\0\\ 0\\0\\0\\0\\0\\ 0\\0\\0\\0\\0\\ 0\\0\\0\\0\\0\\
42\\45\\38\\28\\16\\ 7\\3\\2\\1\\1\\ 0\\0\\0\\0\\0\\ 0\\0\\0\\0\\0\\ 0\\0\\0\\0\\0\\ 0\\0\\0\\0\\0\\ 0\\0\\0\\0\\0\\
12\\10\\8\\5\\3\\ 1\\1\\1\\0\\0\\ 0\\0\\0\\0\\0\\ 0\\0\\0\\0\\0\\ 0\\0\\0\\0\\0\\ 0\\0\\0\\0\\0\\ 0\\0\\0\\0\\0\\
3\\2\\2\\1\\1\\ 0\\0\\0\\0\\0\\ 0\\0\\0\\0\\0\\ 0\\0\\0\\0\\0\\ 0\\0\\0\\0\\0\\ 0\\0\\0\\0\\0\\ 0\\0\\0\\0\\0\\
}\tD
\pgfplotstableread[row sep=\\]{z\\
0\\0\\0\\0\\0\\ 0\\0\\0\\0\\0\\ 0\\0\\0\\0\\0\\ 0\\0\\0\\0\\0\\ 0\\0\\1\\0\\1\\ 1\\1\\1\\1\\1\\ 1\\2\\1\\2\\2\\
0\\0\\0\\0\\0\\ 0\\0\\0\\0\\0\\ 0\\0\\0\\0\\0\\ 0\\0\\0\\0\\1\\ 0\\1\\1\\1\\1\\ 1\\1\\2\\1\\2\\ 2\\2\\2\\3\\2\\
0\\0\\0\\0\\0\\ 0\\0\\0\\0\\0\\ 0\\0\\0\\0\\0\\ 0\\0\\1\\0\\1\\ 1\\1\\1\\2\\1\\ 2\\2\\2\\3\\3\\ 3\\4\\3\\4\\3\\
0\\0\\0\\0\\0\\ 0\\0\\0\\0\\0\\ 0\\0\\0\\0\\0\\ 0\\1\\1\\1\\1\\ 1\\2\\2\\2\\2\\ 3\\3\\3\\4\\4\\ 5\\5\\5\\6\\5\\
0\\0\\0\\0\\0\\ 0\\0\\0\\0\\0\\ 0\\0\\0\\0\\1\\ 1\\1\\1\\2\\2\\ 2\\3\\3\\3\\4\\ 4\\5\\5\\6\\7\\ 6\\7\\7\\6\\6\\
0\\0\\0\\0\\0\\ 0\\0\\0\\0\\0\\ 0\\0\\1\\1\\1\\ 1\\1\\2\\2\\3\\ 3\\4\\4\\5\\5\\ 6\\6\\6\\7\\6\\ 8\\9\\7\\7\\7\\
0\\0\\0\\0\\0\\ 0\\0\\0\\0\\0\\ 0\\1\\1\\1\\1\\ 2\\2\\2\\3\\4\\ 4\\5\\6\\7\\6\\ 8\\8\\9\\8\\8\\ 9\\7\\8\\6\\6\\
0\\0\\0\\0\\0\\ 0\\0\\0\\0\\0\\ 1\\1\\1\\1\\2\\ 2\\3\\3\\4\\5\\ 6\\6\\7\\8\\9\\ 10\\11\\10\\12\\11\\ 9\\8\\8\\7\\6\\
0\\0\\0\\0\\0\\ 0\\0\\0\\0\\1\\ 1\\1\\1\\2\\2\\ 3\\4\\5\\6\\7\\ 8\\9\\10\\12\\11\\ 15\\13\\17\\13\\14\\ 10\\9\\8\\7\\6\\
0\\0\\0\\0\\0\\ 0\\0\\0\\1\\1\\ 1\\1\\2\\2\\3\\ 3\\5\\6\\7\\8\\ 10\\11\\12\\15\\13\\ 16\\18\\19\\14\\12\\ 10\\9\\7\\6\\5\\
0\\0\\0\\0\\0\\ 0\\0\\1\\1\\1\\ 1\\2\\2\\3\\3\\ 5\\6\\7\\9\\9\\ 11\\13\\16\\15\\19\\ 20\\24\\22\\17\\13\\ 11\\8\\7\\6\\4\\
0\\0\\0\\0\\0\\ 0\\1\\1\\1\\1\\ 2\\2\\2\\3\\4\\ 6\\6\\9\\11\\13\\ 14\\19\\19\\22\\24\\ 26\\22\\26\\18\\14\\ 10\\8\\6\\5\\4\\
0\\0\\0\\0\\0\\ 1\\1\\1\\1\\2\\ 2\\3\\3\\5\\6\\ 7\\10\\12\\15\\20\\ 24\\23\\28\\30\\28\\ 25\\22\\17\\13\\10\\ 7\\6\\5\\4\\3\\
0\\0\\1\\0\\1\\ 1\\1\\1\\2\\2\\ 3\\3\\5\\7\\10\\ 13\\16\\19\\25\\30\\ 30\\34\\33\\35\\30\\ 25\\18\\14\\10\\7\\ 5\\5\\4\\3\\2\\
0\\0\\0\\1\\1\\ 1\\1\\2\\2\\3\\ 4\\6\\10\\13\\20\\ 22\\28\\31\\36\\38\\ 42\\39\\38\\34\\28\\ 20\\14\\10\\7\\5\\ 4\\3\\3\\2\\2\\
0\\0\\1\\1\\1\\ 1\\2\\2\\3\\4\\ 7\\12\\18\\22\\30\\ 32\\36\\41\\44\\46\\ 42\\38\\30\\24\\17\\ 12\\8\\6\\4\\3\\ 2\\2\\1\\1\\1\\
0\\1\\1\\1\\1\\ 1\\2\\3\\5\\7\\ 11\\17\\24\\30\\33\\ 37\\44\\48\\50\\44\\ 36\\27\\20\\14\\9\\ 6\\5\\3\\2\\2\\ 1\\1\\1\\1\\0\\
0\\1\\1\\1\\1\\ 2\\3\\5\\7\\10\\ 15\\21\\29\\33\\42\\ 46\\52\\55\\46\\36\\ 25\\16\\10\\7\\4\\ 3\\2\\1\\1\\1\\ 1\\0\\0\\0\\0\\
0\\1\\1\\1\\2\\ 3\\5\\7\\9\\13\\ 18\\26\\33\\43\\46\\ 56\\60\\50\\38\\23\\ 14\\8\\5\\3\\2\\ 1\\1\\1\\1\\0\\ 0\\0\\0\\0\\0\\
1\\1\\1\\2\\3\\ 4\\6\\8\\12\\16\\ 24\\30\\40\\48\\58\\ 66\\56\\44\\28\\15\\ 8\\4\\3\\2\\1\\ 1\\1\\0\\0\\0\\ 0\\0\\0\\0\\0\\
1\\1\\2\\3\\4\\ 5\\7\\11\\15\\21\\ 28\\37\\47\\62\\70\\ 64\\50\\33\\19\\10\\ 5\\3\\2\\1\\1\\ 0\\0\\0\\0\\0\\ 0\\0\\0\\0\\0\\
1\\2\\2\\3\\5\\ 7\\9\\13\\19\\26\\ 37\\48\\60\\67\\62\\ 52\\36\\21\\11\\5\\ 3\\2\\1\\1\\0\\ 0\\0\\0\\0\\0\\ 0\\0\\0\\0\\0\\
1\\2\\3\\4\\5\\ 8\\11\\16\\23\\32\\ 45\\58\\64\\68\\54\\ 40\\24\\13\\6\\3\\ 2\\1\\1\\0\\0\\ 0\\0\\0\\0\\0\\ 0\\0\\0\\0\\0\\
2\\3\\3\\5\\7\\ 10\\15\\22\\31\\42\\ 56\\72\\64\\52\\36\\ 20\\11\\5\\3\\2\\ 1\\1\\0\\0\\0\\ 0\\0\\0\\0\\0\\ 0\\0\\0\\0\\0\\
2\\3\\4\\6\\9\\ 13\\20\\28\\40\\54\\ 74\\68\\56\\36\\20\\ 10\\5\\3\\1\\1\\ 0\\0\\0\\0\\0\\ 0\\0\\0\\0\\0\\ 0\\0\\0\\0\\0\\
3\\4\\6\\8\\12\\ 17\\26\\36\\54\\70\\ 66\\58\\38\\18\\9\\ 5\\2\\1\\1\\0\\ 0\\0\\0\\0\\0\\ 0\\0\\0\\0\\0\\ 0\\0\\0\\0\\0\\
4\\5\\7\\10\\15\\ 22\\34\\50\\66\\62\\ 60\\36\\18\\8\\4\\ 2\\1\\1\\0\\0\\ 0\\0\\0\\0\\0\\ 0\\0\\0\\0\\0\\ 0\\0\\0\\0\\0\\
6\\8\\10\\14\\21\\ 32\\50\\68\\66\\64\\ 38\\16\\8\\4\\2\\ 1\\1\\0\\0\\0\\ 0\\0\\0\\0\\0\\ 0\\0\\0\\0\\0\\ 0\\0\\0\\0\\0\\
8\\11\\16\\24\\38\\ 58\\72\\70\\56\\34\\ 15\\7\\3\\2\\1\\ 1\\0\\0\\0\\0\\ 0\\0\\0\\0\\0\\ 0\\0\\0\\0\\0\\ 0\\0\\0\\0\\0\\
18\\25\\38\\54\\66\\ 74\\64\\48\\28\\12\\ 5\\2\\1\\1\\0\\ 0\\0\\0\\0\\0\\ 0\\0\\0\\0\\0\\ 0\\0\\0\\0\\0\\ 0\\0\\0\\0\\0\\
50\\58\\62\\72\\76\\ 60\\38\\24\\10\\4\\ 2\\1\\1\\0\\0\\ 0\\0\\0\\0\\0\\ 0\\0\\0\\0\\0\\ 0\\0\\0\\0\\0\\ 0\\0\\0\\0\\0\\
68\\74\\70\\72\\58\\ 34\\14\\7\\3\\1\\ 1\\0\\0\\0\\0\\ 0\\0\\0\\0\\0\\ 0\\0\\0\\0\\0\\ 0\\0\\0\\0\\0\\ 0\\0\\0\\0\\0\\
42\\44\\40\\30\\18\\ 6\\2\\1\\1\\0\\ 0\\0\\0\\0\\0\\ 0\\0\\0\\0\\0\\ 0\\0\\0\\0\\0\\ 0\\0\\0\\0\\0\\ 0\\0\\0\\0\\0\\
3\\3\\2\\2\\1\\ 1\\0\\0\\0\\0\\ 0\\0\\0\\0\\0\\ 0\\0\\0\\0\\0\\ 0\\0\\0\\0\\0\\ 0\\0\\0\\0\\0\\ 0\\0\\0\\0\\0\\
0\\1\\0\\0\\0\\ 0\\0\\0\\0\\0\\ 0\\0\\0\\0\\0\\ 0\\0\\0\\0\\0\\ 0\\0\\0\\0\\0\\ 0\\0\\0\\0\\0\\ 0\\0\\0\\0\\0\\
}\tE
\newcommand\px{0.25bp}
\pgfplotsset{heat/.style={
  scale only axis, width=1081*\px, height=880*\px,
  xmin=2.5,xmax=12,ymin=2.5,ymax=12,
  xtick={4,6,8,10,12}, ytick={4,6,8,10,12},
  /pgf/number format/assume math mode=true,
  tick label style={font=\fontsize{15.3}{17}\selectfont},
  label style={font=\fontsize{15.3}{17}\selectfont},
  xlabel={Ground truth (m/s)}, ylabel={Predicted (m/s)}, ylabel shift=-2.4bp,
  grid=major, grid style={color=black!30, line width=0.9bp},
  axis on top, axis line style={line width=1bp,black},
  tick style={black,line width=0.9bp}, major tick length=3.5bp, tick align=outside,
  xtick pos=bottom, ytick pos=left,
  colormap/jet, colorbar,
  colorbar style={at={(parent axis.north east)},anchor=north west,xshift=35*\px,
    width=43*\px,
    ylabel={Data density (\%)}, ylabel shift=3bp,
    ylabel style={font=\fontsize{9.5}{11}\selectfont},
    /pgf/number format/assume math mode=true,
    tick label style={font=\fontsize{9.5}{11}\selectfont,/pgf/number format/fixed,/pgf/number format/fixed zerofill,/pgf/number format/precision=2},
    scaled y ticks=false, major tick length=3.5bp, tick style={black,line width=0.8bp},
    axis line style={line width=1bp,black},grid=none},
}}
\newcommand\heatplot[1]{\addplot[matrix plot*,mesh/cols=35,point meta={\thisrow{z}/1000}] table[x index=0,y index=0,x expr={2.5+(\coordindex-35*floor((\coordindex+0.5)/35)+0.5)*9.5/35},y expr={12-(floor((\coordindex+0.5)/35)+0.5)*9.5/35}]{#1};}
\begin{document}
\begin{tikzpicture}[x=\px,y=-\px]
\path[use as bounding box] (0,0) rectangle (3246,3764);
\begin{axis}[heat,at={(216.6*\px,-51*\px)},anchor=north west,point meta min=0,point meta max=0.0865,
  colorbar style={ytick={0,0.01,0.02,0.03,0.04,0.05,0.06,0.07,0.08}}]
\heatplot{\tA}
\end{axis}
\begin{axis}[heat,at={(1841*\px,-51*\px)},anchor=north west,point meta min=0,point meta max=0.091,
  colorbar style={ytick={0,0.02,0.04,0.06,0.08}}]
\heatplot{\tB}
\end{axis}
\begin{axis}[heat,at={(216.6*\px,-1286*\px)},anchor=north west,point meta min=0,point meta max=0.084,
  colorbar style={ytick={0,0.01,0.02,0.03,0.04,0.05,0.06,0.07,0.08}}]
\heatplot{\tC}
\end{axis}
\begin{axis}[heat,at={(1841*\px,-1286*\px)},anchor=north west,point meta min=0,point meta max=0.0715,
  colorbar style={ytick={0,0.01,0.02,0.03,0.04,0.05,0.06,0.07}}]
\heatplot{\tD}
\end{axis}
\begin{axis}[heat,at={(1036*\px,-2558*\px)},anchor=north west,width=1073*\px,height=873*\px,point meta min=0,point meta max=0.083,
  colorbar style={ytick={0,0.01,0.02,0.03,0.04,0.05,0.06,0.07,0.08}}]
\heatplot{\tE}
\end{axis}
\node[font=\capfont\fontsize{19.6}{22}\selectfont,anchor=base] at (808,1244) {(\textbf{a}) FC layers.};
\node[font=\capfont\fontsize{19.6}{22}\selectfont,anchor=base] at (2435,1244) {(\textbf{b}) LSTM.};
\node[font=\capfont\fontsize{19.6}{22}\selectfont,anchor=base] at (808,2482) {(\textbf{c}) CNN.};
\node[font=\capfont\fontsize{19.6}{22}\selectfont,anchor=base] at (2435,2482) {(\textbf{d}) CNN-LSTM.};
\node[font=\capfont\fontsize{19.6}{22}\selectfont,anchor=base] at (1623,3726) {(\textbf{e}) CNN-LSTM+.};
\end{tikzpicture}
\end{document}
